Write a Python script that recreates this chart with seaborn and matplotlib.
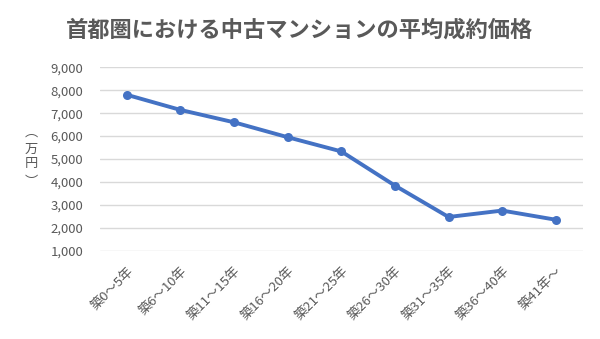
import matplotlib
matplotlib.use("Agg")
import matplotlib.pyplot as plt
import seaborn as sns
import pandas as pd

categories = ["築0～5年", "築6～10年", "築11～15年", "築16～20年", "築21～25年",
              "築26～30年", "築31～35年", "築36～40年", "築41年～"]
prices = [7800, 7140, 6600, 5950, 5330, 3840, 2470, 2750, 2350]
yticks = [1000, 2000, 3000, 4000, 5000, 6000, 7000, 8000, 9000]
title = "首都圏における中古マンションの平均成約価格"
ylabel_chars = ["︵", "万", "円", "︶"]

sns.set_theme(style="white")
plt.rcParams['font.family'] = ['Noto Sans CJK JP', 'DejaVu Sans']

df = pd.DataFrame({"cat": categories, "price": prices})

fig = plt.figure(figsize=(6, 3.39), dpi=100)
ax = fig.add_axes([0.1667, 0.2605, 0.8043, 0.541])
sns.lineplot(data=df, x="cat", y="price", ax=ax, color="#4472C4", linewidth=2.8,
             marker="o", markersize=6.5, markeredgewidth=0, sort=False)
ax.set_xlim(-0.5, len(categories) - 0.5)
ax.set_ylim(1000, 9000)
ax.set_yticks(yticks)
ax.set_yticklabels([f"{v:,}" for v in yticks], color="#595959", fontsize=9.5)
ax.yaxis.grid(True, color="#D9D9D9", linewidth=1)
ax.set_axisbelow(True)
for s in ax.spines.values():
    s.set_visible(False)
ax.tick_params(axis="y", length=0, pad=12)
ax.tick_params(axis="x", length=0, pad=10)
ax.set_xticks(range(len(categories)))
ax.set_xticklabels(categories, rotation=45, ha="right", rotation_mode="anchor",
                   color="#595959", fontsize=9.5)
ax.set_xlabel("")
ax.set_ylabel("")

# vertical (tategaki) axis label
ys = [132, 149, 164, 182]
for ch, yp in zip(ylabel_chars, ys):
    fig.text(31 / 600, 1 - yp / 339, ch, ha="center", va="center",
             color="#595959", fontsize=9.5)
fig.text(0.5, 1 - 30 / 339, title, ha="center", va="center", color="#595959",
         fontsize=16, fontweight="bold")

fig.savefig("out.png", dpi=100)
